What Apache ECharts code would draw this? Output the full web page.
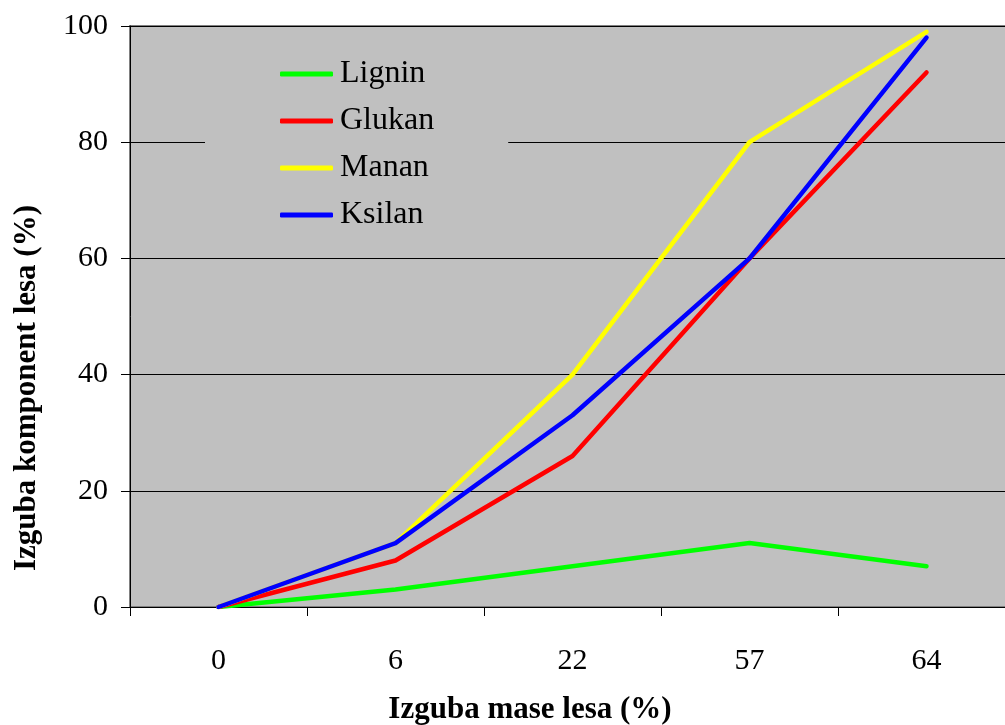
<!DOCTYPE html>
<html>
<head>
<meta charset="utf-8">
<script src="https://cdn.jsdelivr.net/npm/echarts@6/dist/echarts.min.js"></script>
<style>html,body{margin:0;padding:0;background:#fff;}#c{width:1005px;height:725px;}</style>
</head>
<body>
<div id="c"></div>
<script>
const categories = ['0', '6', '22', '57', '64'];
const lignin = [0, 3, 7, 11, 7];
const glukan = [0, 8, 26, 60, 92];
const manan = [0, 11, 40, 80, 99];
const ksilan = [0, 11, 33, 60, 98];
const yTicks = [0, 20, 40, 60, 80, 100];

const FONT = '"Liberation Serif", "Times New Roman", serif';
const chart = echarts.init(document.getElementById('c'), null, {renderer: 'canvas'});
function ser(name, data, color) {
  return {
    name, type: 'line', data, symbol: 'none', showSymbol: false,
    lineStyle: {color, width: 4.5, cap: 'round', join: 'round'},
    itemStyle: {color}, animation: false
  };
}
chart.setOption({
  animation: false,
  grid: {left: 130, top: 26, width: 885, bottom: 118, show: true,
         outerBoundsMode: 'none', containLabel: false,
         backgroundColor: '#C0C0C0', borderColor: '#808080', borderWidth: 2},
  xAxis: {
    type: 'category', data: categories, boundaryGap: true,
    axisLine: {lineStyle: {color: '#000', width: 1}},
    axisTick: {show: true, inside: false, length: 9, lineStyle: {color: '#000'}},
    axisLabel: {color: '#000', fontFamily: FONT, fontSize: 30, margin: 39},
    splitLine: {show: false}
  },
  yAxis: {
    type: 'value', min: 0, max: 100, interval: 20,
    axisLine: {show: true, lineStyle: {color: '#000', width: 1}},
    axisTick: {show: true, inside: false, length: 9, lineStyle: {color: '#000'}},
    axisLabel: {color: '#000', fontFamily: FONT, fontSize: 30, margin: 22,
      formatter: v => yTicks.includes(v) ? String(v) : ''},
    splitLine: {show: true, lineStyle: {color: '#000', width: 1}}
  },
  legend: {
    orient: 'vertical', left: 205, top: 38,
    padding: [20, 74, 20, 75],
    backgroundColor: '#C0C0C0',
    icon: 'roundRect', itemWidth: 53, itemHeight: 5, itemGap: 15,
    textStyle: {color: '#000', fontFamily: FONT, fontSize: 32, lineHeight: 32, padding: [0, 0, 0, 2]},
    data: ['Lignin', 'Glukan', 'Manan', 'Ksilan']
  },
  graphic: [
    {type: 'text', x: 530, y: 710, style: {text: 'Izguba mase lesa (%)', font: 'bold 31px ' + FONT,
      fill: '#000', textAlign: 'center', textVerticalAlign: 'middle'}},
    {type: 'text', x: 27, y: 388, rotation: Math.PI / 2, style: {text: 'Izguba komponent lesa (%)',
      font: 'bold 31px ' + FONT, fill: '#000', textAlign: 'center', textVerticalAlign: 'middle'}}
  ],
  series: [
    ser('Lignin', lignin, '#00FF00'),
    ser('Glukan', glukan, '#FF0000'),
    ser('Manan', manan, '#FFFF00'),
    ser('Ksilan', ksilan, '#0000FF')
  ]
});
</script>
</body>
</html>
